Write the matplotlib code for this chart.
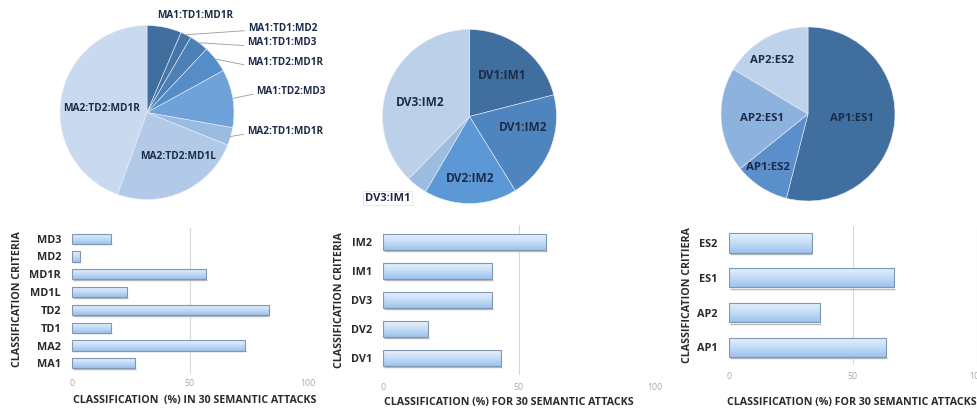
import matplotlib
matplotlib.use("Agg")
import matplotlib.pyplot as plt
import numpy as np
from matplotlib.colors import LinearSegmentedColormap

W_PX, H_PX = 977, 408

# ---- pie data (percent of 30 attacks) ----
PIE1_LABELS = ["MA1:TD1:MD1R", "MA1:TD1:MD2", "MA1:TD1:MD3", "MA1:TD2:MD1R",
               "MA1:TD2:MD3", "MA2:TD1:MD1R", "MA2:TD2:MD1L", "MA2:TD2:MD1R"]
PIE1_VALUES = [6.4, 2.0, 3.6, 5.0, 10.8, 3.3, 24.4, 44.5]
PIE1_COLORS = ["#3F6E9F", "#4676A8", "#4C80B6", "#548DC8", "#6FA2D8",
               "#9ABCE2", "#B2CAE8", "#C9D9EF"]

PIE2_LABELS = ["DV1:IM1", "DV1:IM2", "DV2:IM2", "DV3:IM1", "DV3:IM2"]
PIE2_VALUES = [21.0, 20.2, 17.2, 3.9, 37.7]
PIE2_COLORS = ["#3F6E9F", "#4E85BE", "#5C98D5", "#9DBCE2", "#BCD0EA"]

PIE3_LABELS = ["AP1:ES1", "AP1:ES2", "AP2:ES1", "AP2:ES2"]
PIE3_VALUES = [54.0, 10.2, 19.4, 16.4]
PIE3_COLORS = ["#3F6E9F", "#5A8FCB", "#8DB2DE", "#BFD2EB"]

# ---- bar data ----
BAR1_CATS = ["MA1", "MA2", "TD1", "TD2", "MD1L", "MD1R", "MD2", "MD3"]
BAR1_VALUES = [26.7, 73.3, 16.7, 83.3, 23.3, 56.7, 3.3, 16.7]

BAR2_CATS = ["DV1", "DV2", "DV3", "IM1", "IM2"]
BAR2_VALUES = [43.3, 16.7, 40.0, 40.0, 60.0]

BAR3_CATS = ["AP1", "AP2", "ES1", "ES2"]
BAR3_VALUES = [63.3, 36.7, 66.7, 33.3]

XTICKS = [0, 50, 100]

FONT = ["Open Sans", "DejaVu Sans"]
PIE_TEXT = "#1C2B48"
DARK_TEXT = "#2A2A2A"
GRID = "#D9D9D9"
BAR_CMAP = LinearSegmentedColormap.from_list("bar", ["#9DC2EC", "#C4DDF7", "#E8F2FD"])

plt.rcParams["font.family"] = FONT

fig = plt.figure(figsize=(W_PX / 100, H_PX / 100), dpi=100)


def px_axes(left, top, right, bottom):
    return fig.add_axes([left / W_PX, 1 - bottom / H_PX,
                         (right - left) / W_PX, (bottom - top) / H_PX])


def fig_text(x, y, s, **kw):
    fig.text(x / W_PX, 1 - y / H_PX, s, **kw)


def draw_pie(cx, cy, r, values, colors):
    ax = px_axes(cx - r, cy - r, cx + r, cy + r)
    wedges, _ = ax.pie(values, colors=colors, startangle=90, counterclock=False,
                       wedgeprops=dict(linewidth=0.4, edgecolor="#E8EEF6"))
    ax.set_xlim(-1, 1)
    ax.set_ylim(-1, 1)
    ax.set_aspect("equal")
    ax.axis("off")
    return ax, wedges


# ---- pie 1 ----
ax1, w1 = draw_pie(147, 112.5, 87, PIE1_VALUES, PIE1_COLORS)
inside1 = {"MA2:TD2:MD1R": (-0.52, 0.05), "MA2:TD2:MD1L": (0.36, -0.51)}
outside1 = {"MA1:TD1:MD2": (1.16, 0.97), "MA1:TD1:MD3": (1.15, 0.80),
            "MA1:TD2:MD1R": (1.15, 0.58), "MA1:TD2:MD3": (1.26, 0.24),
            "MA2:TD1:MD1R": (1.15, -0.22)}
for lab, w in zip(PIE1_LABELS, w1):
    if lab in inside1:
        x, y = inside1[lab]
        ax1.text(x, y, lab, ha="center", va="center", fontsize=7.3,
                 fontweight="bold", color=PIE_TEXT)
    elif lab in outside1:
        x, y = outside1[lab]
        mid = np.radians((w.theta1 + w.theta2) / 2)
        sx, sy = 1.0 * np.cos(mid), 1.0 * np.sin(mid)
        ax1.plot([sx, x - 0.04], [sy, y - 0.03], color="#9A9A9A", lw=0.6,
                 clip_on=False)
        ax1.text(x, y, lab, ha="left", va="center", fontsize=7.2,
                 fontweight="bold", color=PIE_TEXT, clip_on=False)
    else:
        ax1.text(0.55, 1.12, lab, ha="center", va="center", fontsize=7.2,
                 fontweight="bold", color=PIE_TEXT, clip_on=False)

# ---- pie 2 ----
ax2, w2 = draw_pie(469.5, 116.5, 87, PIE2_VALUES, PIE2_COLORS)
pos2 = {"DV1:IM1": (0.37, 0.47), "DV1:IM2": (0.62, -0.13),
        "DV2:IM2": (0.01, -0.71), "DV3:IM2": (-0.57, 0.16)}
for lab in PIE2_LABELS:
    if lab in pos2:
        x, y = pos2[lab]
        ax2.text(x, y, lab, ha="center", va="center", fontsize=8.6,
                 fontweight="bold", color=PIE_TEXT)
    else:
        ax2.text(-1.20, -0.94, lab, ha="left", va="center", fontsize=8,
                 fontweight="bold", color=PIE_TEXT, clip_on=False,
                 bbox=dict(boxstyle="square,pad=0.15", fc="white", ec="#E6E6E6", lw=0.6))

# ---- pie 3 ----
ax3, w3 = draw_pie(808, 114, 87, PIE3_VALUES, PIE3_COLORS)
pos3 = {"AP1:ES1": (0.51, -0.05), "AP1:ES2": (-0.46, -0.61),
        "AP2:ES1": (-0.53, -0.05), "AP2:ES2": (-0.41, 0.62)}
for lab in PIE3_LABELS:
    x, y = pos3[lab]
    ax3.text(x, y, lab, ha="center", va="center", fontsize=8.2,
             fontweight="bold", color=PIE_TEXT)


# ---- bar charts ----
def draw_bars(box, cats, values, height, ylim, ypad, xpad):
    ax = px_axes(*box)
    ypos = np.arange(len(cats))
    bars = ax.barh(ypos, values, height=height, facecolor="none",
                   edgecolor="#7E97B2", linewidth=0.8, zorder=3)
    grad = np.linspace(0, 1, 64).reshape(-1, 1)
    for b in bars:
        x0, y0 = b.get_x(), b.get_y()
        im = ax.imshow(grad, extent=[x0, x0 + b.get_width(), y0, y0 + b.get_height()],
                       origin="lower", cmap=BAR_CMAP, aspect="auto", zorder=2)
        im.set_clip_path(b)
        # soft shadow line under the bar
        ax.plot([x0 + 0.3, x0 + b.get_width() + 0.3], [y0 - 0.04, y0 - 0.04],
                color="#B8B8B8", lw=1.0, zorder=1.5, solid_capstyle="butt")
    ax.set_xlim(0, 100)
    ax.set_ylim(*ylim)
    for xv in XTICKS[1:]:
        ax.axvline(xv, color=GRID, lw=0.8, zorder=0)
    for sp in ax.spines.values():
        sp.set_visible(False)
    ax.set_xticks(XTICKS)
    ax.set_xticklabels([str(v) for v in XTICKS], fontsize=6.3, color="#A8A8A8")
    ax.set_yticks(ypos)
    ax.set_yticklabels(cats, fontsize=7.8, fontweight="bold", color=DARK_TEXT)
    ax.tick_params(axis="y", length=0, pad=ypad)
    ax.tick_params(axis="x", length=0, pad=xpad)
    return ax


draw_bars((72, 228, 308, 374), BAR1_CATS, BAR1_VALUES, 0.57, (-0.6, 7.6), 8, 3.5)
draw_bars((383, 224.6, 655, 375.4), BAR2_CATS, BAR2_VALUES, 0.55, (-0.6, 4.6), 8, 5.5)
draw_bars((729, 225.6, 977, 364.7), BAR3_CATS, BAR3_VALUES, 0.56, (-0.5, 3.5), 8.5, 5)

lab_kw = dict(fontsize=7.7, fontweight="bold", color=DARK_TEXT, ha="center", va="center")
fig_text(195, 400, "CLASSIFICATION  (%) IN 30 SEMANTIC ATTACKS", **lab_kw)
fig_text(509, 402, "CLASSIFICATION (%) FOR 30 SEMANTIC ATTACKS", **lab_kw)
fig_text(852, 402, "CLASSIFICATION (%) FOR 30 SEMANTIC ATTACKS", **lab_kw)
fig_text(18, 299, "CLASSIFICATION CRITERIA", rotation=90, **lab_kw)
fig_text(339, 300, "CLASSIFICATION CRITERIA", rotation=90, **lab_kw)
fig_text(688, 295, "CLASSIFICATION CRITIERA", rotation=90, **lab_kw)

fig.savefig("out.png", dpi=100)
